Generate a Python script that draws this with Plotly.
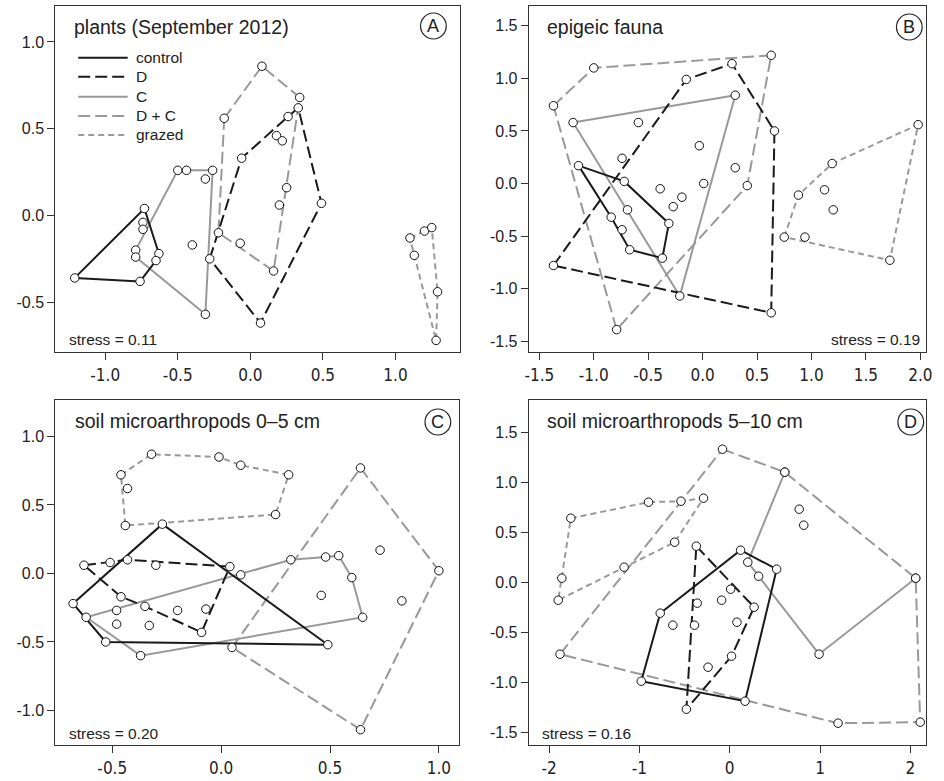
import plotly.graph_objects as go

W, H = 944, 781

# ---------------- data (NMDS scores) ----------------
# Panel A: plants (September 2012)
A_control_x = [-1.21, -0.73, -0.63, -0.65, -0.76]
A_control_y = [-0.36, 0.04, -0.22, -0.26, -0.38]
A_D_x = [-0.28, -0.06, 0.26, 0.33, 0.49, 0.07]
A_D_y = [-0.25, 0.33, 0.57, 0.62, 0.07, -0.62]
A_C_x = [-0.79, -0.50, -0.44, -0.26, -0.31, -0.79]
A_C_y = [-0.20, 0.26, 0.26, 0.26, -0.57, -0.24]
A_DC_x = [-0.18, 0.08, 0.34, 0.16, -0.22]
A_DC_y = [0.56, 0.86, 0.68, -0.32, -0.10]
A_grazed_x = [1.10, 1.20, 1.25, 1.29, 1.28, 1.13]
A_grazed_y = [-0.13, -0.09, -0.07, -0.44, -0.72, -0.23]
A_other_x = [-0.74, -0.74, -0.31, -0.40, 0.18, 0.22, -0.07, 0.25, 0.20]
A_other_y = [-0.04, -0.08, 0.21, -0.17, 0.46, 0.43, -0.16, 0.16, 0.06]

# Panel B: epigeic fauna
B_control_x = [-1.14, -0.72, -0.31, -0.37, -0.67, -0.84]
B_control_y = [0.17, 0.02, -0.38, -0.71, -0.63, -0.32]
B_D_x = [-1.37, -0.15, 0.27, 0.66, 0.63]
B_D_y = [-0.78, 0.99, 1.14, 0.50, -1.23]
B_C_x = [-1.19, 0.30, -0.21]
B_C_y = [0.58, 0.84, -1.07]
B_DC_x = [-1.37, -1.00, 0.63, 0.41, -0.79]
B_DC_y = [0.74, 1.10, 1.22, -0.02, -1.39]
B_grazed_x = [0.75, 0.88, 1.19, 1.98, 1.72]
B_grazed_y = [-0.51, -0.11, 0.19, 0.56, -0.73]
B_other_x = [-0.69, -0.74, -0.59, -0.74, -0.39, -0.19, -0.27, -0.03, 0.01, 0.30, 0.94, 1.12, 1.20]
B_other_y = [-0.25, -0.44, 0.58, 0.24, -0.05, -0.13, -0.22, 0.36, 0.00, 0.15, -0.51, -0.06, -0.25]

# Panel C: soil microarthropods 0-5 cm
C_control_x = [-0.68, -0.27, 0.49, -0.53]
C_control_y = [-0.22, 0.36, -0.52, -0.50]
C_D_x = [-0.63, -0.43, 0.04, -0.09, -0.35, -0.46]
C_D_y = [0.06, 0.10, 0.05, -0.43, -0.24, -0.17]
C_C_x = [-0.62, 0.32, 0.48, 0.54, 0.60, 0.65, -0.37]
C_C_y = [-0.32, 0.10, 0.12, 0.13, -0.03, -0.32, -0.60]
C_DC_x = [0.64, 1.00, 0.64, 0.05]
C_DC_y = [0.77, 0.02, -1.14, -0.54]
C_grazed_x = [-0.46, -0.32, -0.01, 0.09, 0.31, 0.25, -0.44]
C_grazed_y = [0.72, 0.87, 0.85, 0.79, 0.72, 0.43, 0.35]
C_other_x = [-0.48, -0.48, -0.33, -0.20, -0.07, -0.30, 0.09, 0.46, 0.73, 0.83, -0.51, -0.43]
C_other_y = [-0.27, -0.37, -0.38, -0.27, -0.26, 0.06, -0.01, -0.16, 0.17, -0.20, 0.08, 0.62]

# Panel D: soil microarthropods 5-10 cm
D_control_x = [-0.77, 0.12, 0.52, 0.17, -0.98]
D_control_y = [-0.31, 0.32, 0.13, -1.19, -0.99]
D_D_x = [-0.37, 0.27, 0.02, -0.48]
D_D_y = [0.36, -0.25, -0.74, -1.27]
D_C_x = [2.06, 0.99, 0.32, 0.20, 0.61]
D_C_y = [0.04, -0.72, 0.06, 0.20, 1.10]
D_DC_x = [-0.08, 0.61, 2.06, 2.11, 1.20, -1.88]
D_DC_y = [1.33, 1.10, 0.04, -1.40, -1.41, -0.72]
D_grazed_x = [-1.76, -0.90, -0.54, -0.29, -0.61, -1.17, -1.90]
D_grazed_y = [0.64, 0.80, 0.81, 0.84, 0.40, 0.15, -0.18]
D_other_x = [-0.36, -0.09, -0.63, -0.39, -0.24, 0.01, 0.08, 0.77, 0.82, -1.86]
D_other_y = [-0.21, -0.18, -0.43, -0.43, -0.85, -0.07, -0.40, 0.73, 0.57, 0.04]

titles = ["plants (September 2012)", "epigeic fauna",
          "soil microarthropods 0\u20135 cm", "soil microarthropods 5\u201310 cm"]
letters = ["A", "B", "C", "D"]
stress_labels = ["stress = 0.11", "stress = 0.19", "stress = 0.20", "stress = 0.16"]
legend_labels = ["control", "D", "C", "D + C", "grazed"]

A_xticks = [-1.0, -0.5, 0.0, 0.5, 1.0]
A_yticks = [-0.5, 0.0, 0.5, 1.0]
B_xticks = [-1.5, -1.0, -0.5, 0.0, 0.5, 1.0, 1.5, 2.0]
B_yticks = [-1.5, -1.0, -0.5, 0.0, 0.5, 1.0, 1.5]
C_xticks = [-0.5, 0.0, 0.5, 1.0]
C_yticks = [-1.0, -0.5, 0.0, 0.5, 1.0]
D_xticks = [-2, -1, 0, 1, 2]
D_yticks = [-1.5, -1.0, -0.5, 0.0, 0.5, 1.0, 1.5]

# ---------------- styling ----------------
BLACK = "#1a1a1a"
GRAY = "#999999"
FONT = "Liberation Sans, Arial, Helvetica, sans-serif"
NARROW = "DejaVu Sans Condensed, Liberation Sans Narrow, Liberation Sans, sans-serif"
STYLE = {
    "control": dict(color=BLACK, dash="solid", width=2),
    "D": dict(color=BLACK, dash="12px,5px", width=2),
    "C": dict(color=GRAY, dash="solid", width=2),
    "DC": dict(color=GRAY, dash="12px,5px", width=2),
    "grazed": dict(color=GRAY, dash="6px,4px", width=2),
}
ORDER = ["grazed", "DC", "C", "D", "control"]


def fx(px):
    return px / W


def fy(py):
    return 1 - py / H


# pixel boxes (left, top, right, bottom)
boxes = [(52, 6, 460.5, 352), (530.5, 6, 932.3, 352),
         (52, 400, 460, 745), (530.5, 400, 932.3, 745)]
ranges = [
    ([-1.343, 1.442], [-0.787, 1.207]),
    ([-1.596, 2.056], [-1.603, 1.689]),
    ([-0.761, 1.093], [-1.252, 1.266]),
    ([-2.225, 2.179], [-1.628, 1.822]),
]

panels = [
    dict(g={"control": (A_control_x, A_control_y), "D": (A_D_x, A_D_y), "C": (A_C_x, A_C_y),
            "DC": (A_DC_x, A_DC_y), "grazed": (A_grazed_x, A_grazed_y)},
         other=(A_other_x, A_other_y), xt=A_xticks, yt=A_yticks, open=[]),
    dict(g={"control": (B_control_x, B_control_y), "D": (B_D_x, B_D_y), "C": (B_C_x, B_C_y),
            "DC": (B_DC_x, B_DC_y), "grazed": (B_grazed_x, B_grazed_y)},
         other=(B_other_x, B_other_y), xt=B_xticks, yt=B_yticks, open=[]),
    dict(g={"control": (C_control_x, C_control_y), "D": (C_D_x, C_D_y), "C": (C_C_x, C_C_y),
            "DC": (C_DC_x, C_DC_y), "grazed": (C_grazed_x, C_grazed_y)},
         other=(C_other_x, C_other_y), xt=C_xticks, yt=C_yticks, open=[]),
    dict(g={"control": (D_control_x, D_control_y), "D": (D_D_x, D_D_y), "C": (D_C_x, D_C_y),
            "DC": (D_DC_x, D_DC_y), "grazed": (D_grazed_x, D_grazed_y)},
         other=(D_other_x, D_other_y), xt=D_xticks, yt=D_yticks, open=["C"]),
]

fig = go.Figure()
layout = dict(width=W, height=H, margin=dict(l=0, r=0, t=0, b=0),
              paper_bgcolor="white", plot_bgcolor="white", showlegend=False,
              font=dict(family=FONT, color="#222"))

annotations = []
shapes = []

for i, p in enumerate(panels):
    n = "" if i == 0 else str(i + 1)
    xa, ya = "x" + n, "y" + n
    l, t, r, b = boxes[i]
    xr, yr = ranges[i]
    if i == 3:
        xtext = [str(v) for v in p["xt"]]
    else:
        xtext = ["%.1f" % v for v in p["xt"]]
    ytext = ["%.1f" % v for v in p["yt"]]
    common = dict(showline=True, mirror=True, linecolor="#333", linewidth=1.3,
                  ticks="outside", ticklen=7, tickwidth=1, tickcolor="#333",
                  showgrid=False, zeroline=False, fixedrange=True)
    layout["xaxis" + n] = dict(domain=[fx(l), fx(r)], range=xr, anchor=ya,
                               tickvals=p["xt"], ticktext=xtext,
                               tickfont=dict(size=17, family=NARROW, color="#222"), **common)
    layout["yaxis" + n] = dict(domain=[fy(b), fy(t)], range=yr, anchor=xa,
                               tickvals=p["yt"], ticktext=ytext,
                               tickfont=dict(size=16, family=FONT, color="#222"), **common)

    # hull lines
    for gname in ORDER:
        xs, ys = p["g"][gname]
        xs = list(xs)
        ys = list(ys)
        if gname not in p["open"]:
            xs = xs + [xs[0]]
            ys = ys + [ys[0]]
        st = STYLE[gname]
        fig.add_trace(go.Scatter(x=xs, y=ys, mode="lines", xaxis=xa, yaxis=ya,
                                 line=dict(color=st["color"], dash=st["dash"], width=st["width"]),
                                 hoverinfo="skip"))
    # points
    px_all, py_all = [], []
    for gname in ORDER:
        xs, ys = p["g"][gname]
        px_all += list(xs)
        py_all += list(ys)
    px_all += list(p["other"][0])
    py_all += list(p["other"][1])
    fig.add_trace(go.Scatter(x=px_all, y=py_all, mode="markers", xaxis=xa, yaxis=ya,
                             marker=dict(symbol="circle", size=8.5, color="white",
                                         line=dict(color="#111", width=1))))

# titles
title_pos = [(69, 27), (547, 27), (69.5, 420.5), (546.5, 420.5)]
for i, (tx, ty) in enumerate(title_pos):
    annotations.append(dict(x=fx(tx), y=fy(ty), xref="paper", yref="paper", text=titles[i],
                            showarrow=False, xanchor="left", yanchor="middle",
                            font=dict(size=19.5, family=FONT, color="#222")))

# circled letters
circ_pos = [(434, 26), (915, 27), (438.5, 422), (916.5, 422)]
R = 13
for i, (cx, cy) in enumerate(circ_pos):
    shapes.append(dict(type="circle", xref="paper", yref="paper",
                       x0=fx(cx - R), x1=fx(cx + R), y0=fy(cy + R), y1=fy(cy - R),
                       line=dict(color="#222", width=1.2)))
    annotations.append(dict(x=fx(cx), y=fy(cy), xref="paper", yref="paper", text=letters[i],
                            showarrow=False, xanchor="center", yanchor="middle",
                            font=dict(size=18, family=FONT, color="#222")))

# stress labels
stress_pos = [(64, 340, "left"), (928, 339.5, "right"), (64, 733, "left"), (542, 733, "left")]
for i, (sx, sy, anc) in enumerate(stress_pos):
    annotations.append(dict(x=fx(sx), y=fy(sy), xref="paper", yref="paper", text=stress_labels[i],
                            showarrow=False, xanchor=anc, yanchor="middle",
                            font=dict(size=15.5, family=FONT, color="#222")))

# legend (panel A)
leg_rows = [57.7, 76.7, 96.7, 116, 135]
leg_keys = ["control", "D", "C", "DC", "grazed"]
for k, row in enumerate(leg_rows):
    st = STYLE[leg_keys[k]]
    shapes.append(dict(type="line", xref="paper", yref="paper",
                       x0=fx(75), x1=fx(125), y0=fy(row), y1=fy(row),
                       line=dict(color=st["color"], dash=st["dash"], width=st["width"])))
    annotations.append(dict(x=fx(131), y=fy(row), xref="paper", yref="paper", text=legend_labels[k],
                            showarrow=False, xanchor="left", yanchor="middle",
                            font=dict(size=15.5, family=FONT, color="#222")))

layout["annotations"] = annotations
layout["shapes"] = shapes
fig.update_layout(**layout)
fig.write_html("out.html")
